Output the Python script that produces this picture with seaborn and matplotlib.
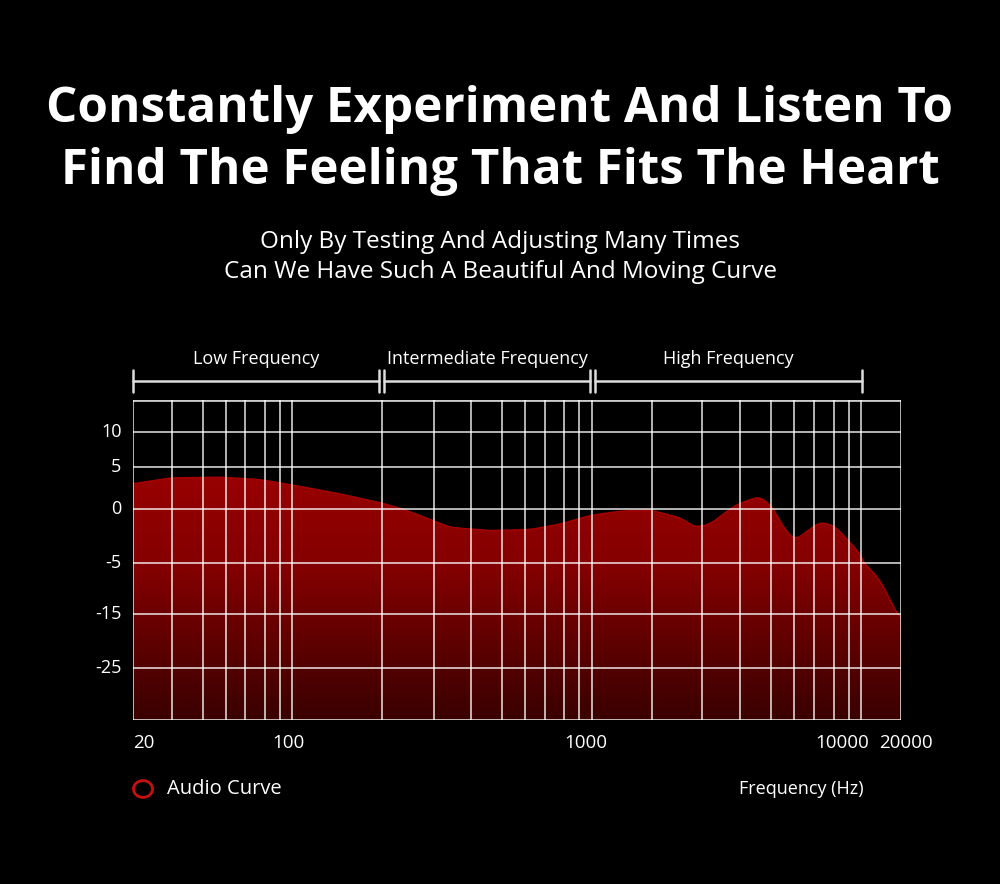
import numpy as np
import pandas as pd
import matplotlib
matplotlib.use("Agg")
import matplotlib.pyplot as plt
import seaborn as sns
from matplotlib.patches import Circle, PathPatch
from matplotlib.lines import Line2D
from matplotlib.path import Path

# ---- data ----
grid_x = [0, 39, 70, 93, 112, 132, 147, 159, 249, 301, 338, 369, 392, 412, 431, 446, 459,
          519, 569, 607, 638, 661, 681, 701, 716, 728, 768]
db_ticks = [10, 5, 0, -5, -15, -25]
db_pix = [432, 467, 509, 563, 614, 668]           # reference grid rows
freq_labels = ["20", "100", "1000", "10000", "20000"]
freq_label_pos = [0, 155, 453, 709, 773]
curve_x = [0, 37, 87, 127, 167, 207, 249, 287, 317, 357, 397, 427, 457, 487, 517, 547,
           562, 577, 607, 627, 637, 652, 662, 672, 687, 702, 727, 747, 762, 768]
curve_db = [3.0, 3.7, 3.8, 3.5, 2.7, 1.8, 0.7, -0.6, -1.7, -2.0, -1.9, -1.4, -0.6, -0.2,
            -0.1, -0.8, -1.7, -1.4, 0.7, 1.5, 0.5, -1.9, -2.9, -2.2, -1.2, -1.6, -4.1,
            -8.3, -14.2, -16.1]

mdb = [-34.6] + db_ticks[::-1] + [14.6]
mpx = [720] + db_pix[::-1] + [400]
def fwd(v):
    return -np.interp(v, mdb, mpx)
def inv(p):
    return np.interp(-np.asarray(p), mpx[::-1], mdb[::-1])

sns.set_style("dark")
plt.rcParams['font.family'] = ['Open Sans', 'DejaVu Sans']
fig = plt.figure(figsize=(10, 8.84), dpi=100, facecolor="black")
ax = fig.add_axes([0.133, 1 - 720/884, 0.768, 320/884])
ax.set_facecolor("black")
ax.set_yscale("function", functions=(fwd, inv))

xs = np.linspace(0, 768, 800)
ys = np.interp(xs, curve_x, curve_db)
k = 6
ys = np.convolve(np.pad(ys, k, mode="edge"), np.ones(2*k+1)/(2*k+1), mode="valid")

grad = np.linspace(0, 1, 256).reshape(-1, 1)
cmap = matplotlib.colors.LinearSegmentedColormap.from_list("r", ["#3a0000", "#7a0000", "#b00000"])
im = ax.imshow(grad, extent=[0, 768, -34.6, 14.6], origin="lower", cmap=cmap,
               aspect="auto", zorder=1)
verts = [(x, y) for x, y in zip(xs, ys)] + [(768, -34.6), (0, -34.6)]
clip = PathPatch(Path(verts), transform=ax.transData, facecolor="none", edgecolor="none")
ax.add_patch(clip)
im.set_clip_path(clip)
ax.set_xlim(0, 768)
ax.set_ylim(-34.6, 14.6)

df = pd.DataFrame({"x": xs, "y": ys})
sns.lineplot(data=df, x="x", y="y", ax=ax, color="#a80000", lw=1, zorder=2)

for gx in grid_x:
    ax.axvline(gx, color="white", lw=1.4, alpha=0.7, zorder=3)
for d in db_ticks:
    ax.axhline(d, color="white", lw=1.4, alpha=0.7, zorder=3)
ax.axhline(14.6, color="white", lw=2, alpha=0.8, zorder=3)
ax.axhline(-34.6, color="white", lw=2, alpha=0.8, zorder=3)

ax.set_xticks([]); ax.set_yticks([])
ax.set_xlabel(""); ax.set_ylabel("")
for s in ax.spines.values():
    s.set_visible(False)

tr = ax.get_yaxis_transform()
for d in db_ticks:
    ax.text(-0.015, d, str(d), transform=tr, ha="right", va="center", color="white", fontsize=13)
for lab, p in zip(freq_labels, freq_label_pos):
    ha = "left" if lab == "20" else "center"
    ax.text(p, -0.045, lab, transform=ax.get_xaxis_transform(), ha=ha, va="top",
            color="white", fontsize=13.5)

def T(x, y, s, **kw):
    fig.text(x/1000, 1 - y/884, s, color="white", ha="center", va="center", **kw)
T(500, 110, "Constantly Experiment And Listen To", fontsize=35.5, fontweight="bold")
T(500, 172, "Find The Feeling That Fits The Heart", fontsize=35.5, fontweight="bold")
T(500, 242, "Only By Testing And Adjusting Many Times", fontsize=17.5)
T(500, 272, "Can We Have Such A Beautiful And Moving Curve", fontsize=17.5)

segs = [(133, 379, "Low Frequency"), (384, 590, "Intermediate Frequency"), (595, 862, "High Frequency")]
yb = 1 - 381/884
for a, b, lab in segs:
    fig.add_artist(Line2D([a/1000, b/1000], [yb, yb], color="#dddddd", lw=1.8))
    for e in (a, b):
        fig.add_artist(Line2D([e/1000, e/1000], [yb - 11/884, yb + 11/884], color="#dddddd", lw=1.8))
    T((a + b)/2, 359, lab, fontsize=13)

fig.add_artist(Circle((143/1000, 1 - 789/884), 0.0095, transform=fig.transFigure,
                      facecolor="none", edgecolor="#c81010", lw=2))
fig.text(167/1000, 1 - 789/884, "Audio Curve", color="white", ha="left", va="center", fontsize=14.5)
T(801, 789, "Frequency (Hz)", fontsize=13)

fig.savefig("out.png", dpi=100, facecolor="black")
